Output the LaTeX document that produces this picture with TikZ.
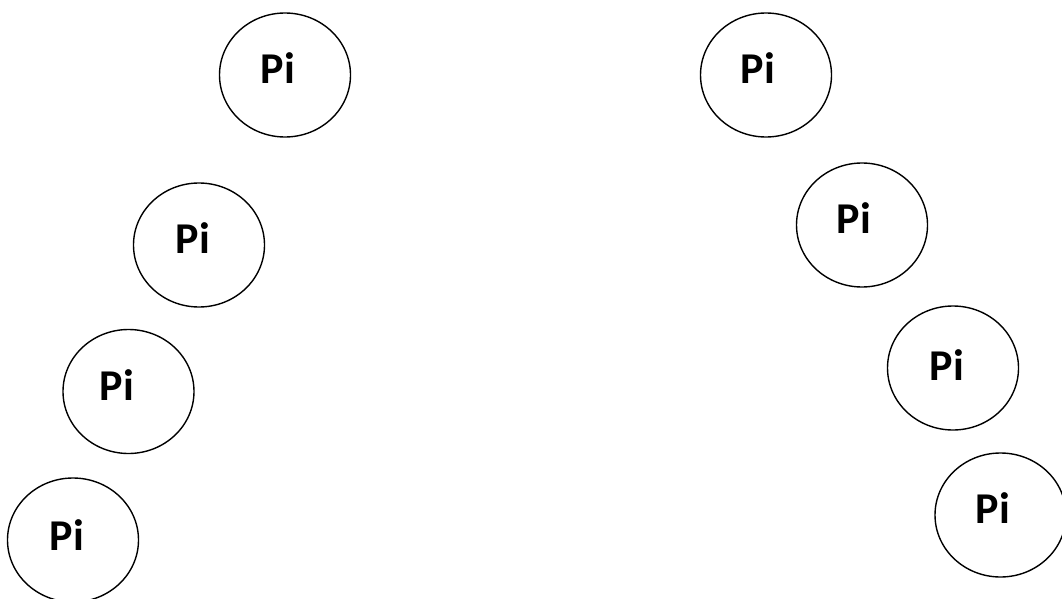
\documentclass[tikz,border=0pt]{standalone}
\usepackage{fontspec}
\setmainfont{Carlito}
\usetikzlibrary{shapes.geometric}
\begin{document}
\begin{tikzpicture}[x=1pt,y=-1pt,
  pinode/.style={draw=black,line width=1.4pt,ellipse,minimum width=131pt,minimum height=124pt,inner sep=0pt},
  pitext/.style={font=\fontsize{44}{44}\selectfont\bfseries,inner sep=0pt}]
\useasboundingbox (0,0) rectangle (1062,599);
% left arc
\node[pinode] (l1) at (285,75) {};
\node[pinode] (l2) at (199,245) {};
\node[pinode] (l3) at (128.5,391.5) {};
\node[pinode] (l4) at (73,540) {};
% right arc
\node[pinode] (r1) at (766,75) {};
\node[pinode] (r2) at (862,225) {};
\node[pinode] (r3) at (953,368) {};
\node[pinode] (r4) at (1000.5,515) {};
% labels
\node[pitext] (tl1) at (278,68) {Pi};
\node[pitext] (tl2) at (193,238) {Pi};
\node[pitext] (tl3) at (117,385) {Pi};
\node[pitext] (tl4) at (67,535) {Pi};
\node[pitext] (tr1) at (758,68) {Pi};
\node[pitext] (tr2) at (854,218) {Pi};
\node[pitext] (tr3) at (947,365) {Pi};
\node[pitext] (tr4) at (993,508) {Pi};
\end{tikzpicture}
\end{document}
